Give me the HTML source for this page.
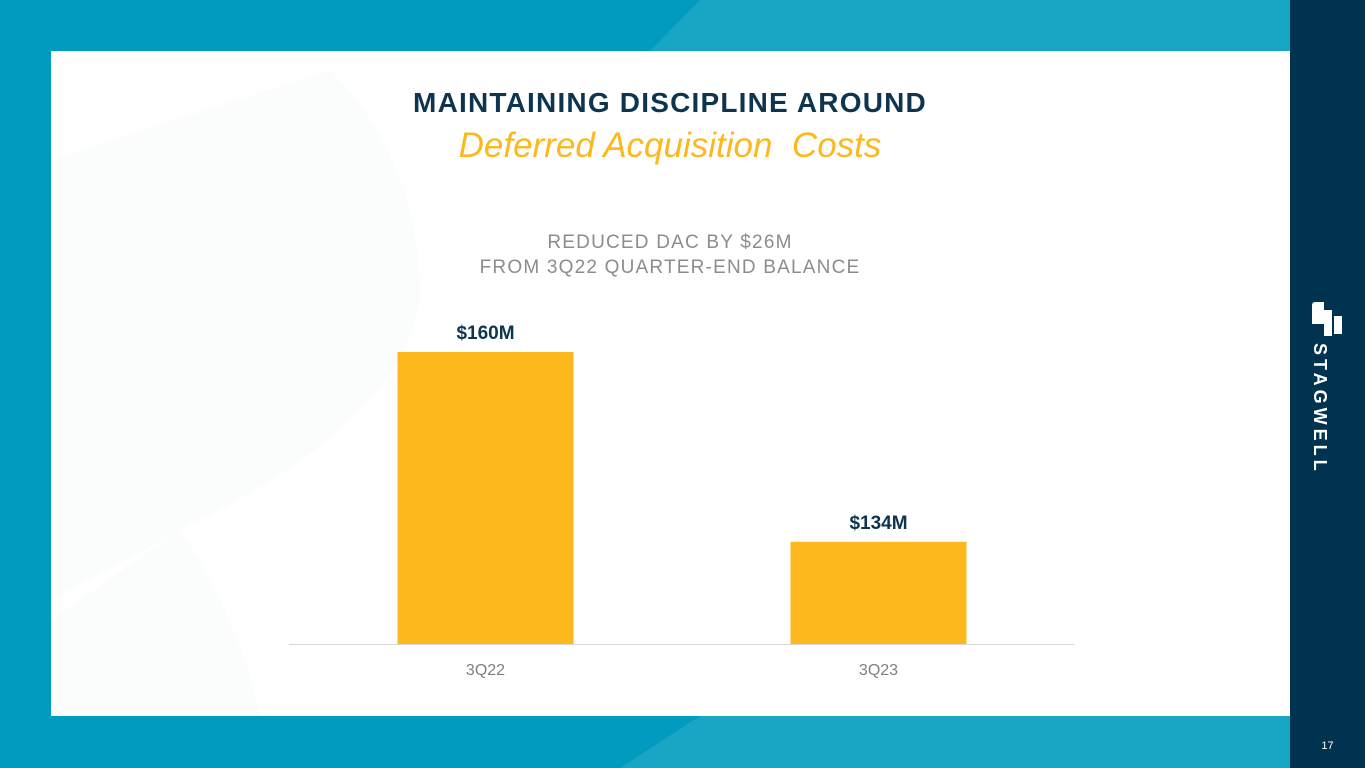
<!DOCTYPE html>
<html><head><meta charset="utf-8"><style>
body{margin:0;width:1365px;height:768px;overflow:hidden;background:#019bbf;font-family:"Liberation Sans",sans-serif;position:relative}
.abs{position:absolute}
</style></head><body>
<svg class="abs" style="left:0;top:0" width="1365" height="768">
<rect width="1365" height="768" fill="#019bbf"/>
<path d="M700 0 L1290 0 L1290 51 L650 51 Z" fill="#18a6c4"/>
<path d="M700 716 L1290 716 L1290 768 L620 768 Z" fill="#18a6c4"/>
<rect x="51" y="51" width="1239" height="665" fill="#ffffff"/>
<path d="M51 160 L330 70 Q420 160 420 300 Q400 420 200 520 L51 600 Z" fill="#fbfcfc"/>
<path d="M51 620 L180 530 Q240 620 260 716 L51 716 Z" fill="#fbfcfc"/>
<rect x="1290" y="0" width="75" height="768" fill="#003350"/>
</svg>
<div class="abs" style="left:1290px;top:290px;width:75px;height:190px">
<div class="abs" style="left:22px;top:12px;width:12px;height:22px;background:#fff;border-radius:3px 0 0 0"></div>
<div class="abs" style="left:34px;top:20px;width:8px;height:26px;background:#fff"></div>
<div class="abs" style="left:44px;top:26px;width:8px;height:18px;background:#fff"></div>
<div class="abs" style="left:40px;top:53px;transform-origin:0 0;transform:rotate(90deg);color:#fff;font-weight:bold;font-size:18px;letter-spacing:4px;white-space:nowrap">STAGWELL</div>
</div>
<div class="abs" style="left:1310px;top:740px;width:35px;text-align:center;color:#fff;font-size:11px">17</div>
<div class="abs" style="left:300px;top:87px;width:740px;text-align:center;color:#0d3550;font-weight:bold;font-size:28px;letter-spacing:1.2px">MAINTAINING DISCIPLINE AROUND</div>
<div class="abs" style="left:300px;top:126px;width:740px;text-align:center;color:#fbb81f;font-style:italic;font-size:35px">Deferred Acquisition&nbsp; Costs</div>
<div class="abs" style="left:320px;top:230px;width:700px;text-align:center;color:#8c8c8c;font-size:19px;line-height:25px;letter-spacing:1.2px">REDUCED DAC BY $26M<br>FROM 3Q22 QUARTER-END BALANCE</div>
<svg id="chart" class="abs" style="left:0;top:0" width="1365" height="768"></svg>
<script>
const categories=["3Q22","3Q23"];
const values=[160,134];
const valueLabels=["$160M","$134M"];
const NS="http://www.w3.org/2000/svg";
const svg=document.getElementById('chart');
const yMin=120,yMax=160,yBase=644,yTop=352;
function y(v){return yBase-(v-yMin)/(yMax-yMin)*(yBase-yTop);}
const x0=289,x1=1075,band=(x1-x0)/categories.length,bw=176;
function xc(i){return x0+band*(i+0.5);}
const ax=document.createElementNS(NS,'line');
ax.setAttribute('x1',x0);ax.setAttribute('x2',x1);ax.setAttribute('y1',yBase+0.5);ax.setAttribute('y2',yBase+0.5);
ax.setAttribute('stroke','#d9d9d9');


svg.appendChild(ax);
categories.forEach((c,i)=>{
 const r=document.createElementNS(NS,'rect');
 r.setAttribute('x',xc(i)-bw/2);r.setAttribute('width',bw);
 r.setAttribute('y',y(values[i]));r.setAttribute('height',yBase-y(values[i]));
 r.setAttribute('fill','#fdb81e');
 
 
 svg.appendChild(r);
 const t=document.createElementNS(NS,'text');
 t.setAttribute('x',xc(i));t.setAttribute('y',y(values[i])-13);
 t.setAttribute('text-anchor','middle');t.setAttribute('font-size','19');t.setAttribute('font-weight','bold');
 t.setAttribute('fill','#0d3550');t.setAttribute('font-family','Liberation Sans, sans-serif');
 t.textContent=valueLabels[i];
 
 
 svg.appendChild(t);
 const l=document.createElementNS(NS,'text');
 l.setAttribute('x',xc(i));l.setAttribute('y',675);
 l.setAttribute('text-anchor','middle');l.setAttribute('font-size','16');
 l.setAttribute('fill','#7f7f7f');l.setAttribute('font-family','Liberation Sans, sans-serif');
 l.textContent=c;
 
 
 svg.appendChild(l);
});
</script>
</body></html>
